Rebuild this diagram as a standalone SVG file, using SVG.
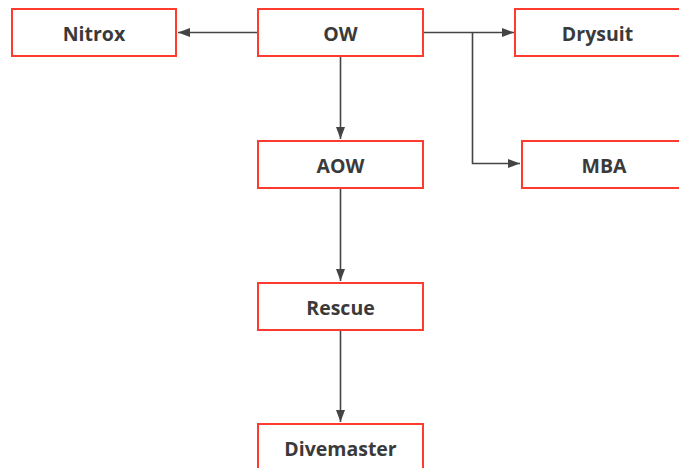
<svg xmlns="http://www.w3.org/2000/svg" width="679" height="468" viewBox="0 0 679 468">
<style>
.box{fill:#fff;stroke:#ff3b30;stroke-width:2}
.lbl{font-family:"Open Sans","Liberation Sans",sans-serif;font-weight:bold;font-size:19.5px;fill:#3a3a3a;text-anchor:middle;dominant-baseline:central}
.edge{fill:none;stroke:#444;stroke-width:1.6}
</style>
<defs>
<marker id="arr" viewBox="0 0 12 10" refX="12" refY="5" markerWidth="12" markerHeight="10" markerUnits="userSpaceOnUse" orient="auto">
<path d="M0,0.5 L12,5 L0,9.5 Z" fill="#444"/>
</marker>
</defs>
<rect width="679" height="468" fill="#fff"/>
<g id="connectors">
<path class="edge" d="M258,32.5 H178" marker-end="url(#arr)"/>
<path class="edge" d="M423,32.5 H514" marker-end="url(#arr)"/>
<path class="edge" d="M472.5,32.5 V163.5 H520" marker-end="url(#arr)"/>
<path class="edge" d="M340.5,56 V139" marker-end="url(#arr)"/>
<path class="edge" d="M340.5,188 V281" marker-end="url(#arr)"/>
<path class="edge" d="M340.5,330 V422" marker-end="url(#arr)"/>
</g>
<g id="nitrox"><rect class="box" x="12" y="9" width="164" height="47"/><text class="lbl" x="94" y="33">Nitrox</text></g>
<g id="ow"><rect class="box" x="258" y="9" width="165" height="47"/><text class="lbl" x="340.5" y="33">OW</text></g>
<g id="drysuit"><rect class="box" x="515" y="9" width="165" height="47"/><text class="lbl" x="597.5" y="33">Drysuit</text></g>
<g id="aow"><rect class="box" x="258" y="141" width="165" height="47"/><text class="lbl" x="340.5" y="165">AOW</text></g>
<g id="mba"><rect class="box" x="522" y="141" width="165" height="47"/><text class="lbl" x="604" y="165">MBA</text></g>
<g id="rescue"><rect class="box" x="258" y="283" width="165" height="47"/><text class="lbl" x="340.5" y="307">Rescue</text></g>
<g id="divemaster"><rect class="box" x="258" y="424" width="165" height="47"/><text class="lbl" x="340.5" y="448">Divemaster</text></g>
</svg>
